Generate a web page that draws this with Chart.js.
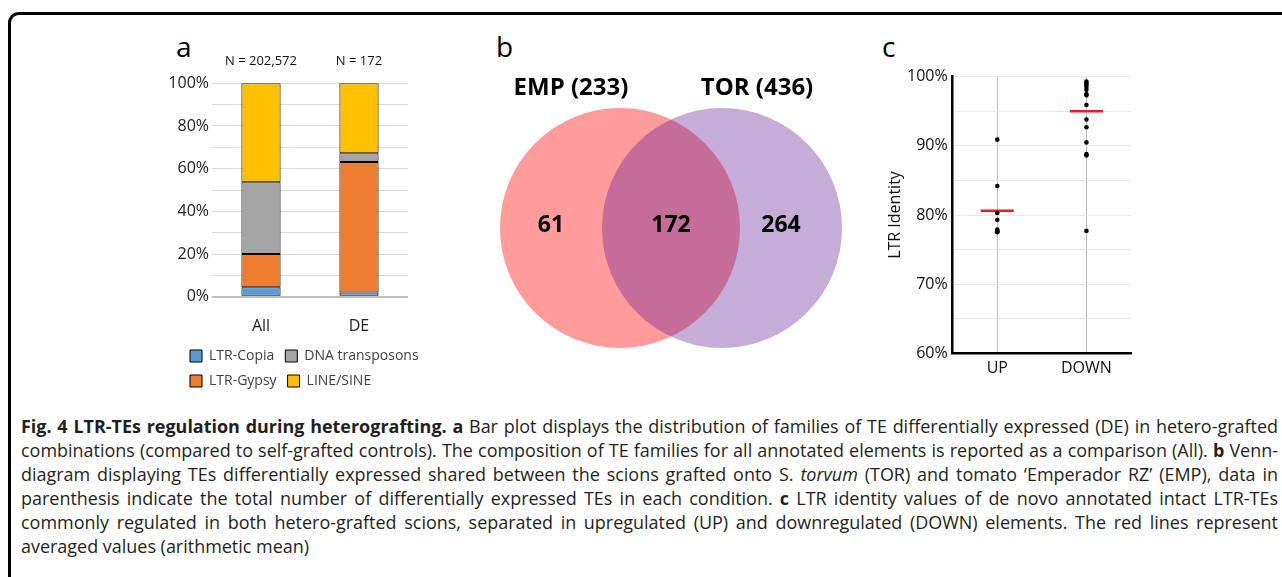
<!DOCTYPE html>
<html>
<head>
<meta charset="utf-8">
<script src="https://cdn.jsdelivr.net/npm/chart.js@4.4.1/dist/chart.umd.min.js"></script>
<style>
  html, body { margin: 0; padding: 0; background: #fff; }
  body { width: 1282px; height: 577px; overflow: hidden; position: relative; font-family: "Open Sans", sans-serif; }
  .frame { position: absolute; left: 8px; top: 12px; width: 1300px; height: 600px;
           border-left: 3px solid #000; border-top: 3px solid #000; border-top-left-radius: 11px; }
  canvas { position: absolute; }
  .letter { position: absolute; font-size: 28px; line-height: 28px; color: #000; }
  .caption { position: absolute; left: 21px; top: 414px; width: 1257px; font-family: "Open Sans", sans-serif;
             font-size: 16px; line-height: 24px; color: #231f20; }
  .caption div { white-space: nowrap; text-align: justify; text-align-last: justify; }
  .caption div.last { text-align-last: left; }
</style>
</head>
<body>
<div class="frame"></div>

<div class="letter" style="left:176px; top:32px;">a</div>
<div class="letter" style="left:496px; top:32px;">b</div>
<div class="letter" style="left:882px; top:32px;">c</div>

<canvas id="barChart" width="300" height="368" style="left:150px; top:30px;"></canvas>
<canvas id="vennChart" width="408" height="320" style="left:467px; top:68px;"></canvas>
<canvas id="dotChart" width="260" height="360" style="left:880px; top:30px;"></canvas>

<div class="caption" id="caption">
  <div><b>Fig. 4 LTR-TEs regulation during heterografting. a</b> Bar plot displays the distribution of families of TE differentially expressed (DE) in hetero-grafted</div>
  <div>combinations (compared to self-grafted controls). The composition of TE families for all annotated elements is reported as a comparison (All). <b>b</b> Venn-</div>
  <div>diagram displaying TEs differentially expressed shared between the scions grafted onto S. <i>torvum</i> (TOR) and tomato ‘Emperador RZ’ (EMP), data in</div>
  <div>parenthesis indicate the total number of differentially expressed TEs in each condition. <b>c</b> LTR identity values of de novo annotated intact LTR-TEs</div>
  <div>commonly regulated in both hetero-grafted scions, separated in upregulated (UP) and downregulated (DOWN) elements. The red lines represent</div>
  <div class="last">averaged values (arithmetic mean)</div>
</div>

<script>
Chart.defaults.font.family = '"Open Sans", sans-serif';
Chart.defaults.animation = false;

// panel a - TE family composition (%)
const groups = ["All", "DE"];
const nCounts = [202572, 172];
const ltrCopia = [4.4, 2.0];
const ltrGypsy = [15.6, 61.1];
const dnaTransposons = [33.6, 4.1];
const lineSine = [46.4, 32.8];

// panel b - venn counts
const setNames = ["EMP", "TOR"];
const onlyCounts = [61, 264];
const sharedCount = 172;

// panel c - LTR identity (%)
const regulation = ["UP", "DOWN"];
const upIdentity = [90.9, 84.2, 80.3, 79.3, 77.9, 77.7, 77.6, 77.5];
const downIdentity = [99.3, 99.0, 98.8, 98.5, 98.1, 97.5, 97.3, 95.9, 93.8, 92.7, 90.5, 88.8, 88.6, 77.7];
const meanIdentity = [80.6, 95.0];

// ---------- panel a ----------
const nLabels = {
  id: 'nLabels',
  afterDraw(chart) {
    const { ctx, chartArea, scales: { x } } = chart;
    ctx.save();
    ctx.font = '13px "Open Sans"';
    ctx.fillStyle = '#111';
    ctx.textAlign = 'center';
    ctx.textBaseline = 'middle';
    nCounts.forEach((n, i) => {
      ctx.fillText('N = ' + n.toLocaleString('en-US'), x.getPixelForValue(i), chartArea.top - 22);
    });
    ctx.restore();
  }
};

// move the legend under the bars instead of the canvas edge
const legendShift = {
  id: 'legendShift',
  afterLayout(chart) {
    chart.legend.left += 29;
    chart.legend.right += 29;
  }
};

const legendOrder = [0, 2, 1, 3];
const barStyle = { borderColor: '#000', borderWidth: 1, borderSkipped: false, barPercentage: 0.8, categoryPercentage: 0.5 };

new Chart(document.getElementById('barChart'), {
  type: 'bar',
  data: {
    labels: groups,
    datasets: [
      { label: 'LTR-Copia', data: ltrCopia, backgroundColor: '#5b9bd5', ...barStyle },
      { label: 'LTR-Gypsy', data: ltrGypsy, backgroundColor: '#ed7d31', ...barStyle },
      { label: 'DNA transposons', data: dnaTransposons, backgroundColor: '#a5a5a5', ...barStyle },
      { label: 'LINE/SINE', data: lineSine, backgroundColor: '#ffc000', ...barStyle }
    ]
  },
  options: {
    responsive: false,
    events: [],
    layout: { autoPadding: false, padding: { top: 53.3, right: 42, left: 0, bottom: 0 } },
    plugins: {
      tooltip: { enabled: false },
      legend: {
        position: 'bottom',
        align: 'start',
        labels: {
          boxWidth: 12, boxHeight: 12, padding: 11, color: '#404040',
          font: { size: 14 },
          sort: (a, b) => legendOrder[a.datasetIndex] - legendOrder[b.datasetIndex]
        }
      }
    },
    scales: {
      x: {
        stacked: true,
        grid: { display: false },
        border: { display: false },
        ticks: { padding: 12, color: '#222', font: { size: 16 } },
        afterFit: s => { s.height = 41.3; }
      },
      y: {
        stacked: true, min: 0, max: 100,
        border: { display: false },
        grid: {
          drawTicks: false,
          color: c => c.tick && c.tick.value === 0 ? '#bfbfbf' : '#d9d9d9',
          lineWidth: c => c.tick && c.tick.value === 0 ? 2 : 1
        },
        ticks: {
          stepSize: 10, autoSkip: false, padding: 3, color: '#222', font: { size: 16 },
          callback: v => v % 20 === 0 ? v + '%' : ''
        },
        afterFit: s => { s.width = 62; }
      }
    }
  },
  plugins: [nLabels, legendShift]
});

// ---------- panel b ----------
const vennRadius = 120;
const setCenters = [-1, 1];

const vennLabels = {
  id: 'vennLabels',
  afterDatasetsDraw(chart) {
    const { ctx, scales: { x, y } } = chart;
    const cx = setCenters.map(v => x.getPixelForValue(v));
    const cy = y.getPixelForValue(0);
    ctx.save();
    ctx.fillStyle = '#000';
    ctx.textAlign = 'center';
    ctx.textBaseline = 'middle';
    ctx.font = 'bold 23px "Open Sans"';
    const regionX = [
      ((cx[0] - vennRadius) + (cx[1] - vennRadius)) / 2,
      (cx[0] + cx[1]) / 2,
      ((cx[0] + vennRadius) + (cx[1] + vennRadius)) / 2 - 10
    ];
    const counts = [onlyCounts[0], sharedCount, onlyCounts[1]];
    counts.forEach((c, i) => ctx.fillText(String(c), regionX[i], cy - 3));
    ctx.font = 'bold 24px "Open Sans"';
    ctx.fillText(setNames[0] + ' (' + (onlyCounts[0] + sharedCount) + ')', cx[0] - 49, cy - 140);
    ctx.fillText(setNames[1] + ' (' + (onlyCounts[1] + sharedCount) + ')', cx[1] + 35, cy - 140);
    ctx.restore();
  }
};

new Chart(document.getElementById('vennChart'), {
  type: 'scatter',
  data: {
    datasets: [{
      label: 'sets',
      data: setNames.map((n, i) => ({ x: setCenters[i], y: 0 })),
      pointRadius: vennRadius,
      pointBorderWidth: 0,
      pointBackgroundColor: ['#ff9b9b', 'rgba(96, 30, 148, 0.365)'],
      clip: false
    }]
  },
  options: {
    responsive: false,
    events: [],
    layout: { autoPadding: false, padding: 0 },
    plugins: { legend: { display: false }, tooltip: { enabled: false } },
    scales: {
      x: { type: 'linear', min: -4, max: 4, display: false },
      y: { type: 'linear', min: -1, max: 1, display: false }
    }
  },
  plugins: [vennLabels]
});

// ---------- panel c ----------
new Chart(document.getElementById('dotChart'), {
  type: 'scatter',
  data: {
    datasets: [
      {
        label: 'LTR identity',
        data: upIdentity.map(v => ({ x: 'UP', y: v })).concat(downIdentity.map(v => ({ x: 'DOWN', y: v }))),
        pointRadius: 2.3,
        pointBorderWidth: 0,
        pointBackgroundColor: '#000'
      },
      {
        label: 'mean',
        data: meanIdentity.map((m, i) => ({ x: regulation[i], y: m })),
        pointStyle: 'line',
        pointRadius: 16.5,
        pointBorderWidth: 2.5,
        pointBorderColor: '#ec1c24'
      }
    ]
  },
  options: {
    responsive: false,
    events: [],
    layout: { autoPadding: false, padding: { top: 46.7, right: 9, left: 0, bottom: 6.7 } },
    plugins: { legend: { display: false }, tooltip: { enabled: false } },
    scales: {
      x: {
        type: 'category',
        labels: regulation,
        offset: true,
        grid: { color: '#bdbdbd', drawTicks: false },
        border: { color: '#000', width: 2.5 },
        ticks: { padding: 5.5, color: '#111', font: { size: 16 } },
        afterFit: s => { s.height = 30; }
      },
      y: {
        min: 60, max: 100,
        grid: { color: '#e8e8e8', drawTicks: false },
        border: { color: '#000', width: 2.5 },
        ticks: {
          stepSize: 5, autoSkip: false, padding: 5, color: '#111', font: { size: 16 },
          callback: v => v % 10 === 0 ? v + '%' : ''
        },
        title: { display: true, text: 'LTR Identity', color: '#111', font: { size: 16 }, padding: { top: 6, bottom: 0 } },
        afterFit: s => { s.width = 72.7; }
      }
    }
  }
});

// size the caption so the longest line just fills the box, then justify
const capLines = [...document.querySelectorAll('#caption div')];
capLines.forEach(l => { l.style.textAlignLast = 'left'; });
const widths = capLines.map(l => {
  const r = document.createRange();
  r.selectNodeContents(l);
  return r.getBoundingClientRect().width;
});
const longest = Math.max(...widths);
document.getElementById('caption').style.fontSize = (16 * 1248 / longest).toFixed(2) + 'px';
capLines.forEach(l => { l.style.textAlignLast = ''; });
</script>
</body>
</html>
